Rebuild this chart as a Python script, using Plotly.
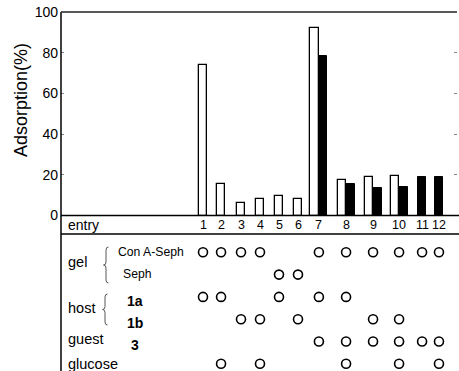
import plotly.graph_objects as go

# ---------------- data ----------------
entries = [str(i) for i in range(1, 13)]
adsorption_open = [74, 15.3, 6.3, 8.3, 9.4, 8.3, 92, 17.5, 18.7, 19.5, None, None]
adsorption_filled = [None, None, None, None, None, None, 78.6, 15.7, 13.5, 14.2, 18.8, 18.8]
y_ticks = [0, 20, 40, 60, 80, 100]

row_labels = ["Con A-Seph", "Seph", "1a", "1b", "3", "glucose"]
conditions = {
    "Con A-Seph": [1, 2, 3, 4, 7, 8, 9, 10, 11, 12],
    "Seph": [5, 6],
    "1a": [1, 2, 5, 7, 8],
    "1b": [3, 4, 6, 9, 10],
    "3": [7, 8, 9, 10, 11, 12],
    "glucose": [2, 4, 8, 10, 12],
}

# ---------------- layout helpers ----------------
W, H = 459, 371
ML, MR, MT, MB = 61, 2, 12, 0
PW, PH = W - ML - MR, H - MT - MB
UNIT = 19.0                      # px per x unit
ENTRY1_PX = 203
entry_pos = [0, 0.95, 2.0, 3.0, 4.0, 5.0, 6.1, 7.53, 8.95, 10.32, 11.53, 12.42]
x_range = [(ML - ENTRY1_PX) / UNIT, (ML + PW - ENTRY1_PX) / UNIT]
BASE_PX = 215.5
bar_dom_bottom = (H - BASE_PX) / PH
ROW0_PX, ROW_STEP = 252.3, 22.3
def row_of(py):
    return (py - ROW0_PX) / ROW_STEP
y2_range = [row_of(H), row_of(BASE_PX)]
def px_x(px):
    return (px - ML) / PW
def px_y(py):
    return (H - py) / PH

FONT = "Liberation Sans, Arial, sans-serif"
bw = 0.45
paired = [a is not None and b is not None for a, b in zip(adsorption_open, adsorption_filled)]
off_open = [-bw if p else -bw / 2 for p in paired]
off_fill = [0 if p else -bw / 2 for p in paired]

fig = go.Figure()
fig.add_trace(go.Bar(x=entry_pos, y=adsorption_open, width=bw, offset=off_open,
                     marker=dict(color="white", line=dict(color="black", width=1.3)),
                     yaxis="y", showlegend=False))
fig.add_trace(go.Bar(x=entry_pos, y=adsorption_filled, width=bw, offset=off_fill,
                     marker=dict(color="black", line=dict(color="black", width=1)),
                     yaxis="y", showlegend=False))

# circles of the condition table
for r, lab in enumerate(row_labels):
    xs = [entry_pos[e - 1] for e in conditions[lab]]
    fig.add_trace(go.Scatter(x=xs, y=[r] * len(xs), mode="markers", yaxis="y2",
                             marker=dict(symbol="circle-open", size=9, color="black",
                                         line=dict(width=1.6, color="black")),
                             showlegend=False, hoverinfo="skip"))

ann = []
# entry numbers
for e, xp in zip(entries, entry_pos):
    ann.append(dict(x=xp, y=row_of(225), xref="x", yref="y2", text=e, showarrow=False,
                    font=dict(size=12.5, color="black", family=FONT)))
ann.append(dict(x=px_x(66), y=row_of(225), xref="paper", yref="y2", text="entry",
                xanchor="left", showarrow=False, font=dict(size=14, color="black", family=FONT)))
left_labels = [("gel", 262), ("host", 308), ("guest", 339), ("glucose", 364)]
for t, py in left_labels:
    ann.append(dict(x=px_x(66), y=row_of(py), xref="paper", yref="y2", text=t,
                    xanchor="left", showarrow=False, font=dict(size=14.5, color="black", family=FONT)))
ann.append(dict(x=px_x(116), y=0, xref="paper", yref="y2", text="Con A-Seph", xanchor="left",
                showarrow=False, font=dict(size=12.2, color="black", family=FONT)))
ann.append(dict(x=px_x(121), y=row_of(273.5), xref="paper", yref="y2", text="Seph", xanchor="left",
                showarrow=False, font=dict(size=12.2, color="black", family=FONT)))
for t, r in [("1a", row_of(301)), ("1b", row_of(322.5)), ("3", row_of(345))]:
    ann.append(dict(x=px_x(135), y=r, xref="paper", yref="y2", text="<b>%s</b>" % t,
                    xanchor="center", showarrow=False, font=dict(size=14, color="black", family=FONT)))
ann.append(dict(x=px_x(21), y=px_y(100), xref="paper", yref="paper", text="Adsorption(%)",
                xanchor="center", yanchor="middle",
                textangle=-90, showarrow=False, font=dict(size=18, color="black", family=FONT)))

def brace(x_px, top, bot):
    xl, xm, xr = px_x(x_px - 2.5), px_x(x_px), px_x(x_px + 2.5)
    mid = (top + bot) / 2
    yt, yb, ym = px_y(top), px_y(bot), px_y(mid)
    d = 3 / PH
    return (f"M {xr},{yt} Q {xm},{yt} {xm},{yt - d} L {xm},{ym + d} Q {xm},{ym} {xl},{ym} "
            f"Q {xm},{ym} {xm},{ym - d} L {xm},{yb + d} Q {xm},{yb} {xr},{yb}")

shapes = [
    dict(type="line", xref="paper", yref="paper", x0=0, x1=0, y0=0, y1=1,
         line=dict(color="black", width=1.5)),
    dict(type="line", xref="paper", yref="paper", x0=0, x1=1, y0=1, y1=1,
         line=dict(color="#222", width=1.5)),
    dict(type="line", xref="paper", yref="paper", x0=0, x1=1.006, y0=bar_dom_bottom, y1=bar_dom_bottom,
         line=dict(color="black", width=1.5)),
    dict(type="line", xref="paper", yref="y2", x0=0, x1=1.006, y0=row_of(234), y1=row_of(234),
         line=dict(color="black", width=1.5)),
    dict(type="path", xref="paper", yref="paper", path=brace(106, 247, 283),
         line=dict(color="#444", width=0.9)),
    dict(type="path", xref="paper", yref="paper", path=brace(105, 294, 325),
         line=dict(color="#444", width=0.9)),
]

fig.update_layout(
    template="none",
    width=W, height=H, autosize=False,
    margin=dict(l=ML, r=MR, t=MT, b=MB, pad=0, autoexpand=False),
    paper_bgcolor="white", plot_bgcolor="white", barmode="overlay", bargap=0,
    font=dict(family=FONT, color="black"),
    xaxis=dict(range=x_range, visible=False, fixedrange=True, automargin=False),
    yaxis=dict(domain=[bar_dom_bottom, 1], range=[0, 100], tickvals=y_ticks,
               ticks="inside", ticklen=3, tickcolor="#888", mirror="ticks",
               showline=False, showgrid=False, zeroline=False, automargin=False,
               ticklabelstandoff=2,
               tickfont=dict(size=14, color="black", family=FONT)),
    yaxis2=dict(domain=[0, bar_dom_bottom], range=y2_range, visible=False, anchor="x",
                automargin=False),
    annotations=ann, shapes=shapes,
)
fig.write_html("out.html", config={"displayModeBar": False, "responsive": False},
               post_script="document.body.style.margin='0';document.body.style.overflow='hidden';")
